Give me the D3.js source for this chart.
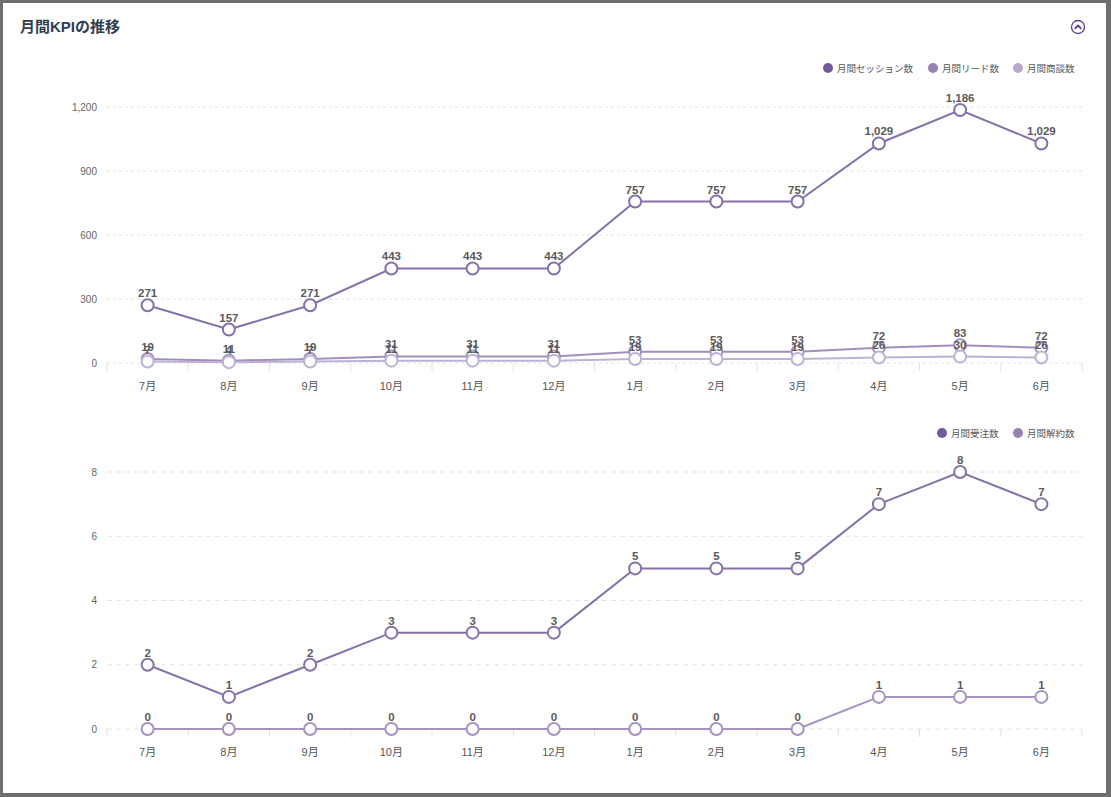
<!DOCTYPE html>
<html>
<head>
<meta charset="utf-8">
<script src="https://cdn.jsdelivr.net/npm/d3@7"></script>
<style>
  html, body { margin: 0; padding: 0; background: #6e6e6e; }
  body { width: 1111px; height: 797px; overflow: hidden; position: relative; }
  .card { position: absolute; left: 3px; top: 3px; width: 1103px; height: 790px; background: #fff; }
  svg { position: absolute; left: 0; top: 0; }
  text { font-family: "Liberation Sans", Arial, "Noto Sans CJK JP", sans-serif; }
</style>
</head>
<body>
<div class="card"></div>
<svg id="chart" width="1111" height="797"></svg>
<script>
// months on the x axis
const months = ['7月', '8月', '9月', '10月', '11月', '12月', '1月', '2月', '3月', '4月', '5月', '6月'];

// upper chart
const sessions = [271, 157, 271, 443, 443, 443, 757, 757, 757, 1029, 1186, 1029];
const leads = [19, 11, 19, 31, 31, 31, 53, 53, 53, 72, 83, 72];
const deals = [7, 4, 7, 11, 11, 11, 19, 19, 19, 26, 30, 26];
const topTicks = [0, 300, 600, 900, 1200];

// lower chart
const orders = [2, 1, 2, 3, 3, 3, 5, 5, 5, 7, 8, 7];
const churns = [0, 0, 0, 0, 0, 0, 0, 0, 0, 1, 1, 1];
const bottomTicks = [0, 2, 4, 6, 8];

const svg = d3.select('#chart');
const fmt = d3.format(',');

// title + collapse icon
svg.append('text')
  .attr('x', 20).attr('y', 32)
  .attr('font-size', 15).attr('font-weight', 'bold')
  .attr('fill', '#2f3e52')
  .text('月間KPIの推移');

const icon = svg.append('g').attr('transform', 'translate(1078,27)');
icon.append('circle').attr('r', 6.5).attr('fill', 'none').attr('stroke', '#5b3f8c').attr('stroke-width', 1.3);
icon.append('path').attr('d', 'M-2.8,1.3 L0,-1.5 L2.8,1.3')
  .attr('fill', 'none').attr('stroke', '#5b3f8c').attr('stroke-width', 1.8)
  .attr('stroke-linecap', 'round').attr('stroke-linejoin', 'round');

const x = d3.scaleBand().domain(months).range([107, 1082]);

function drawChart(cfg) {
  const g = svg.append('g');
  const y = d3.scaleLinear().domain(cfg.domain).range([cfg.bottom, cfg.top]);

  // grid
  g.selectAll('.grid').data(cfg.ticks).enter().append('line')
    .attr('x1', 107).attr('x2', 1082)
    .attr('y1', d => y(d)).attr('y2', d => y(d))
    .attr('stroke', '#e3e3e3').attr('stroke-width', 1)
    .attr('stroke-dasharray', cfg.dash);

  // y labels
  g.selectAll('.ylab').data(cfg.ticks).enter().append('text')
    .attr('x', 97).attr('y', d => y(d) + 3.5)
    .attr('text-anchor', 'end').attr('font-size', 10).attr('fill', '#666')
    .text(d => fmt(d));

  // x ticks at band edges
  const edges = months.map(m => x(m)).concat([x.range()[1]]);
  g.selectAll('.xt').data(edges).enter().append('line')
    .attr('x1', d => d).attr('x2', d => d)
    .attr('y1', cfg.bottom).attr('y2', cfg.bottom + 8)
    .attr('stroke', '#e0e0e0').attr('stroke-width', 1);

  g.selectAll('.xlab').data(months).enter().append('text')
    .attr('x', m => x(m) + x.bandwidth() / 2)
    .attr('y', cfg.bottom + 27)
    .attr('text-anchor', 'middle').attr('font-size', 11).attr('fill', '#555')
    .text(m => m);

  const cx = i => x(months[i]) + x.bandwidth() / 2;
  const line = d3.line().x((d, i) => cx(i)).y(d => y(d));

  cfg.series.forEach(s => {
    g.append('path').datum(s.values)
      .attr('d', line).attr('fill', 'none')
      .attr('stroke', s.color).attr('stroke-width', 2);
  });
  cfg.series.forEach(s => {
    g.selectAll(null).data(s.values).enter().append('circle')
      .attr('cx', (d, i) => cx(i)).attr('cy', d => y(d)).attr('r', 6)
      .attr('fill', '#fff').attr('stroke', s.color).attr('stroke-width', 2);
  });
  cfg.series.forEach(s => {
    g.selectAll(null).data(s.values).enter().append('text')
      .attr('x', (d, i) => cx(i)).attr('y', d => y(d) - 8)
      .attr('text-anchor', 'middle').attr('font-size', 11.5).attr('font-weight', 'bold')
      .attr('fill', '#5a5a5a')
      .text(d => fmt(d));
  });

  // legend
  const lg = g.append('g');
  cfg.series.forEach(s => {
    lg.append('circle').attr('cx', s.lx).attr('cy', cfg.legendY).attr('r', 5).attr('fill', s.legend);
    lg.append('text').attr('x', s.lx + 9).attr('y', cfg.legendY + 3.5)
      .attr('font-size', 9.5).attr('fill', '#555').text(s.name);
  });
}

drawChart({
  domain: [0, 1200], top: 107, bottom: 363, ticks: topTicks, dash: '3,3', legendY: 68,
  series: [
    { name: '月間セッション数', values: sessions, color: '#8571a9', legend: '#735a9b', lx: 828 },
    { name: '月間リード数', values: leads, color: '#a08fbd', legend: '#9882b5', lx: 933 },
    { name: '月間商談数', values: deals, color: '#bdb2d3', legend: '#b8abcf', lx: 1018 }
  ]
});

drawChart({
  domain: [0, 8], top: 472, bottom: 729, ticks: bottomTicks, dash: '5,4', legendY: 433,
  series: [
    { name: '月間受注数', values: orders, color: '#8571a9', legend: '#735a9b', lx: 942 },
    { name: '月間解約数', values: churns, color: '#a592c0', legend: '#9882b5', lx: 1018 }
  ]
});
</script>
</body>
</html>
